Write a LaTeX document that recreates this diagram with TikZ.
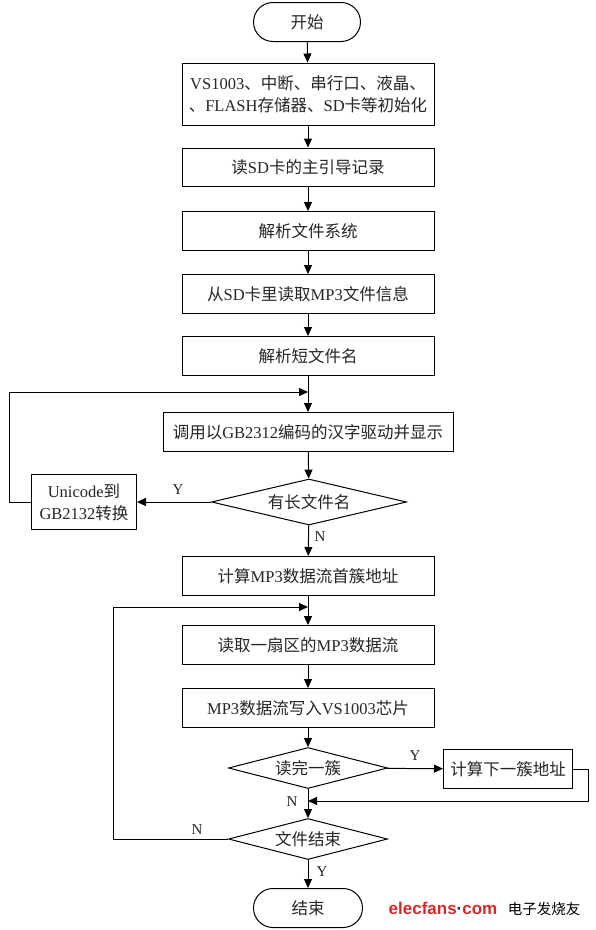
\documentclass[tikz,border=0pt]{standalone}
\usepackage{fontspec}
\setmainfont{Liberation Serif}
\newfontfamily\cjk{Noto Sans CJK SC}
\newfontfamily\wmfont{Liberation Sans}
\usetikzlibrary{shapes.geometric,shapes.misc,arrows.meta}
\newcommand\zh[1]{{\cjk #1}}
\definecolor{txt}{gray}{0.15}
\definecolor{wmred}{RGB}{218,40,40}
\begin{document}
\begin{tikzpicture}[x=1pt,y=-1pt,
  every node/.style={font=\fontsize{16.5}{22}\selectfont, text=txt},
  box/.style={draw, line width=1pt, inner sep=0pt, align=center, minimum width=252pt, minimum height=39pt},
  term/.style={draw, rounded rectangle, line width=1pt, minimum width=107pt, minimum height=39pt, inner sep=0pt},
  dec/.style={draw, diamond, aspect=4.2, inner sep=0pt, line width=1pt},
  flow/.style={draw, line width=1pt, -{Triangle[length=9pt,width=8pt]}},
  lab/.style={font=\fontsize{15}{16}\selectfont, inner sep=0pt}
]
\useasboundingbox (0,0) rectangle (595,930);
\fill[white] (0,0) rectangle (595,930);

\node[term] (start) at (307,22) {\zh{开始}};
\node[box, minimum height=62pt] (b1) at (308,94) {VS1003\zh{、中断、串行口、液晶、}\\\zh{、}FLASH\zh{存储器、}SD\zh{卡等初始化}};
\node[box, minimum height=38pt] (b2) at (308,167) {\zh{读}SD\zh{卡的主引导记录}};
\node[box] (b3) at (308,231) {\zh{解析文件系统}};
\node[box] (b4) at (308,294) {\zh{从}SD\zh{卡里读取}MP3\zh{文件信息}};
\node[box] (b5) at (308,356) {\zh{解析短文件名}};
\node[box, minimum width=290pt] (b6) at (308,432) {\zh{调用以}GB2312\zh{编码的汉字驱动并显示}};
\node[dec, minimum width=195pt, minimum height=46pt] (d1) at (309,502) {\zh{有长文件名}};
\node[box, minimum width=105pt, minimum height=55pt] (uni) at (84,502) {Unicode\zh{到}\\GB2132\zh{转换}};
\node[box] (b7) at (308,576) {\zh{计算}MP3\zh{数据流首簇地址}};
\node[box] (b8) at (308,645) {\zh{读取一扇区的}MP3\zh{数据流}};
\node[box] (b9) at (308,708) {MP3\zh{数据流写入}VS1003\zh{芯片}};
\node[dec, minimum width=159pt, minimum height=41pt] (d2) at (308,768) {\zh{读完一簇}};
\node[box, minimum width=129pt] (nx) at (508,769) {\zh{计算下一簇地址}};
\node[dec, minimum width=159pt, minimum height=41pt] (d3) at (308,839) {\zh{文件结束}};
\node[term, minimum width=109pt] (end) at (308,908) {\zh{结束}};

\coordinate (j1) at (308,392);
\coordinate (j2) at (308,607);
\coordinate (j3) at (308,801);

\draw[flow] (start) -- (b1);
\draw[flow] (b1) -- (b2);
\draw[flow] (b2) -- (b3);
\draw[flow] (b3) -- (b4);
\draw[flow] (b4) -- (b5);
\draw[flow] (b5) -- (b6);
\draw[flow] (b6) -- (d1);
\draw[flow] (d1) -- (uni);
\draw[flow] (d1) -- (b7);
\draw[flow] (uni.west) -- (9,502) -- (9,392) -- (j1);
\draw[flow] (b7) -- (b8);
\draw[flow] (b8) -- (b9);
\draw[flow] (b9) -- (d2);
\draw[flow] (d2) -- (nx);
\draw[flow] (d2) -- (d3);
\draw[flow] (nx.east) -- (588,769) -- (588,801) -- (j3);
\draw[flow] (d3.west) -- (113,839) -- (113,607) -- (j2);
\draw[flow] (d3) -- (end);

\node[lab] (y1) at (178,490) {Y};
\node[lab] (n1) at (320,537) {N};
\node[lab] (y2) at (415,756) {Y};
\node[lab] (n2) at (292,802) {N};
\node[lab] (n3) at (197,830) {N};
\node[lab] (y3) at (322,872) {Y};

\node[inner sep=0pt, font=\wmfont\bfseries\fontsize{17}{18}\selectfont, text=wmred] (wm1) at (443,908) {elecfans{\textcolor{txt}{\textperiodcentered}}com};
\node[inner sep=0pt, font=\cjk\fontsize{14.5}{15}\selectfont, text=black] (wm2) at (544,909) {电子发烧友};
\end{tikzpicture}
\end{document}
